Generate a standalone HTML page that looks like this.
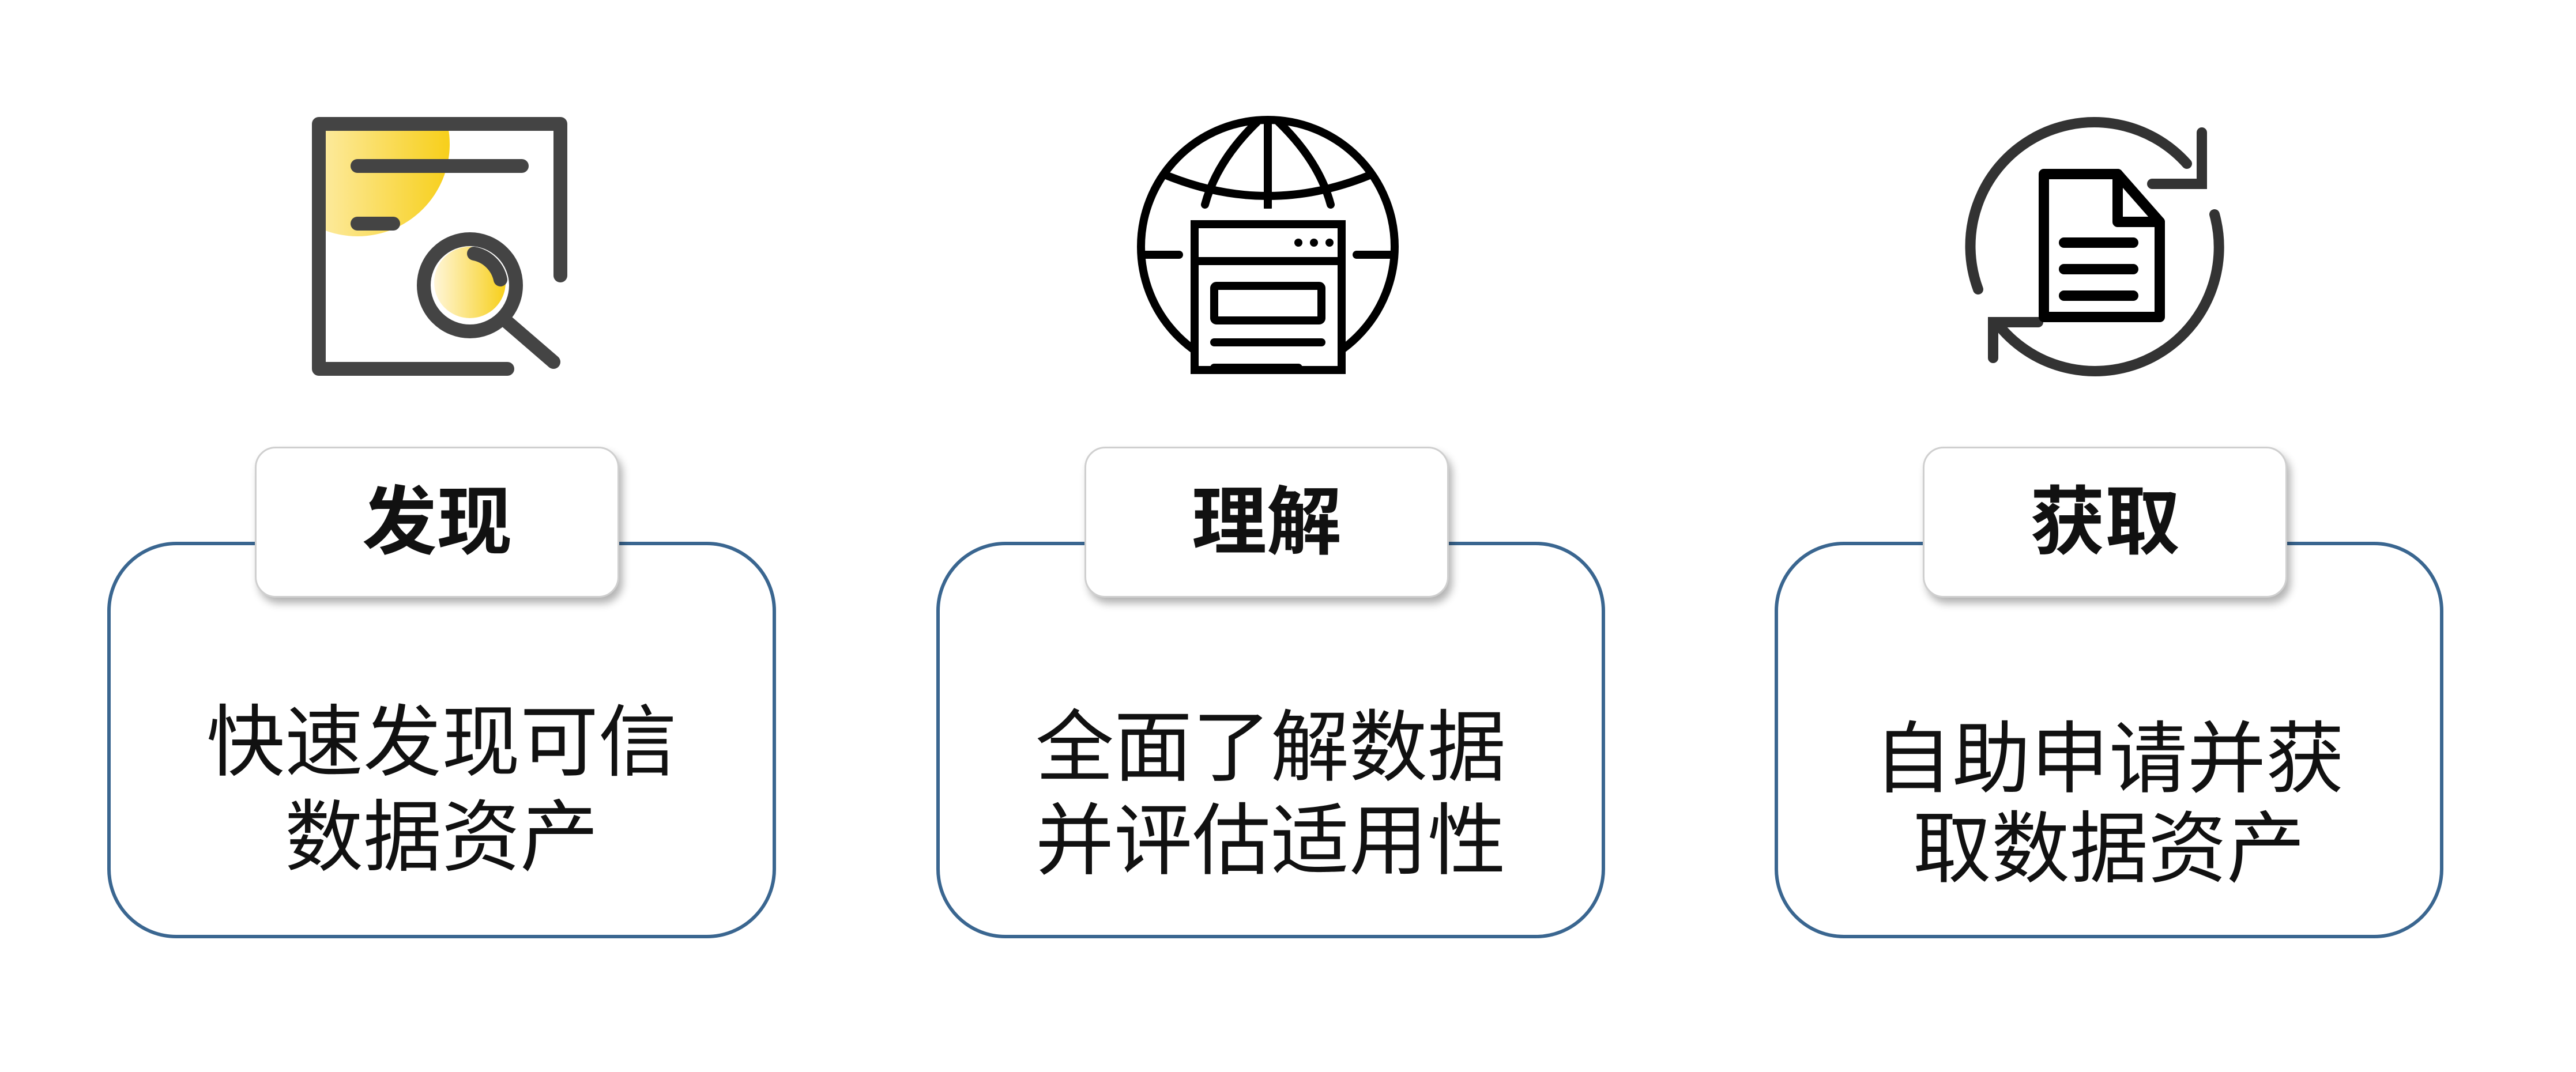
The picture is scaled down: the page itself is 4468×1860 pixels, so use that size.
<!DOCTYPE html>
<html><head><meta charset="utf-8"><style>
html,body{margin:0;padding:0;background:#fff;}
body{width:4468px;height:1860px;position:relative;overflow:hidden;font-family:"Liberation Sans","Noto Sans CJK SC",sans-serif;}
.outer{position:absolute;top:940px;width:1160px;height:688px;border:6px solid #3a6690;border-radius:120px;box-sizing:border-box;background:#fff;}
.lab{position:absolute;top:775px;width:632px;height:262px;border:3px solid #cfcfcf;border-radius:36px;box-sizing:border-box;background:#fff;box-shadow:6px 10px 14px rgba(0,0,0,0.3);font-weight:bold;font-size:130px;line-height:256px;text-align:center;color:#111;}
.t{position:absolute;width:1160px;text-align:center;font-size:136px;line-height:160px;color:#111;}
svg{position:absolute;left:0;top:0;}
</style></head><body>
<svg width="4468" height="760" viewBox="0 0 4468 760">
<defs>
<linearGradient id="g1" x1="0" x2="1" y1="0" y2="0"><stop offset="0" stop-color="#fff6d8"/><stop offset="1" stop-color="#f7cf1a"/></linearGradient>
<clipPath id="c1"><rect x="553" y="215" width="420" height="420"/></clipPath>
</defs>
<!-- icon 1 -->
<circle cx="620" cy="250" r="160" fill="url(#g1)" clip-path="url(#c1)"/>
<circle cx="815" cy="490" r="62" fill="url(#g1)"/>
<g fill="none" stroke="#444" stroke-width="24" stroke-linecap="round" stroke-linejoin="round">
<polyline points="972,478 972,215 553,215 553,640 880,640"/>
<line x1="620" y1="288" x2="905" y2="288"/>
<line x1="620" y1="388" x2="682" y2="388"/>
<circle cx="815" cy="495" r="80"/>
<line x1="872" y1="552" x2="960" y2="628"/>
<path d="M822 440 A58 58 0 0 1 868 485"/>
</g>
<!-- icon 2 globe -->
<g fill="none" stroke="#000" stroke-width="14" stroke-linecap="round">
<circle cx="2199" cy="428" r="220"/>
<line x1="2199" y1="210" x2="2199" y2="360"/>
<path d="M2025 305 Q2199 375 2373 305"/>
<path d="M2180 212 Q2110 280 2090 355"/>
<path d="M2218 212 Q2288 280 2308 355"/>
<line x1="1985" y1="442" x2="2045" y2="442"/>
<line x1="2353" y1="442" x2="2413" y2="442"/>
</g>
<rect x="2066" y="362" width="265" height="300" fill="#fff"/>
<g fill="none" stroke="#000" stroke-width="14" stroke-linecap="round">
<rect x="2072" y="389" width="255" height="253"/>
<line x1="2072" y1="453" x2="2327" y2="453"/>
<rect x="2106" y="496" width="186" height="60" rx="4"/>
<line x1="2106" y1="594" x2="2292" y2="594"/>
<line x1="2106" y1="638" x2="2252" y2="638"/>
</g>
<g fill="#000"><circle cx="2252" cy="421" r="7"/><circle cx="2279" cy="421" r="7"/><circle cx="2306" cy="421" r="7"/></g>
<!-- icon 3 -->
<g fill="none" stroke="#333" stroke-width="18" stroke-linecap="round">
<path d="M3431 502 A215 215 0 0 1 3793 284"/>
<path d="M3841 372 A215 215 0 0 1 3468 566"/>
<polyline points="3733,319 3819,319 3819,230"/>
<polyline points="3535,559 3457,559 3457,621"/>
</g>
<g fill="none" stroke="#000" stroke-width="18" stroke-linejoin="round" stroke-linecap="round">
<path d="M3545 302 L3673 302 L3746 385 L3746 550 L3545 550 Z"/>
<path d="M3673 302 L3673 385 L3746 385"/>
<line x1="3580" y1="421" x2="3700" y2="421"/>
<line x1="3580" y1="467" x2="3700" y2="467"/>
<line x1="3580" y1="513" x2="3700" y2="513"/>
</g>
</svg>

<div class="outer" style="left:186px"></div>
<div class="outer" style="left:1624px"></div>
<div class="outer" style="left:3078px"></div>

<div class="lab" style="left:442px">发现</div>
<div class="lab" style="left:1881px">理解</div>
<div class="lab" style="left:3335px">获取</div>

<div class="t" style="left:186px;top:1208px">快速发现可信</div>
<div class="t" style="left:186px;top:1373px">数据资产</div>
<div class="t" style="left:1624px;top:1217px">全面了解数据</div>
<div class="t" style="left:1624px;top:1379px">并评估适用性</div>
<div class="t" style="left:3078px;top:1237px">自助申请并获</div>
<div class="t" style="left:3078px;top:1393px">取数据资产</div>
</body></html>
